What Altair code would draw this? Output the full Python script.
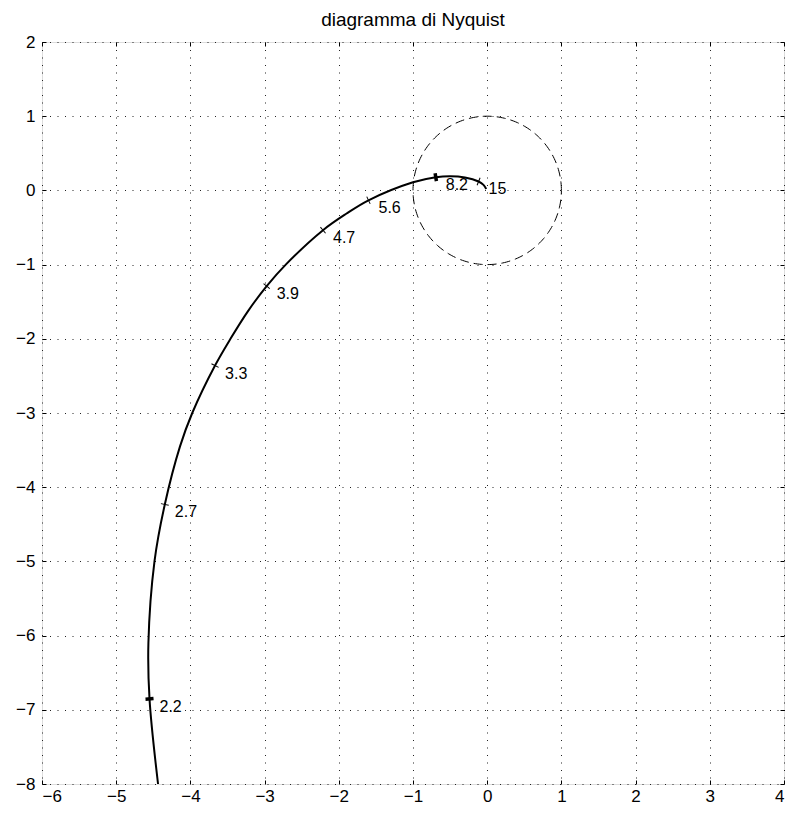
import altair as alt
import numpy as np
import pandas as pd

# Nyquist curve, ordered by increasing frequency
curve_x = [-4.436, -4.551, -4.566, -4.484, -4.345, -4.140, -3.975, -3.668,
           -3.460, -3.228, -2.972, -2.715, -2.213, -1.900, -1.600, -1.000,
           -0.693, -0.500, -0.300, -0.116, -0.050, -0.013]
curve_y = [-8.000, -6.853, -6.100, -5.000, -4.233, -3.450, -3.000, -2.360,
           -2.000, -1.633, -1.290, -1.000, -0.536, -0.315, -0.133, 0.110,
           0.178, 0.192, 0.175, 0.120, 0.075, 0.020]

# frequency markers on the curve
marker_labels = ["2.2", "2.7", "3.3", "3.9", "4.7", "5.6", "8.2", "15"]
marker_index = [1, 4, 7, 10, 12, 14, 16, 19]
marker_thick = [True, False, False, False, False, False, True, False]

x_ticks = list(range(-6, 5))
y_ticks = list(range(-8, 3))
X_DOM = [-6, 4]
Y_DOM = [-8, 2]
W, H = 742, 742

FONT = "Liberation Sans"

px_x = W / (X_DOM[1] - X_DOM[0])
px_y = H / (Y_DOM[1] - Y_DOM[0])

curve = pd.DataFrame({"i": range(len(curve_x)), "x": curve_x, "y": curve_y})

angles = []
for k in marker_index:
    a, b = max(k - 1, 0), min(k + 1, len(curve_x) - 1)
    sdx = (curve_x[b] - curve_x[a]) * px_x
    sdy = -(curve_y[b] - curve_y[a]) * px_y
    angles.append(float(np.degrees(np.arctan2(sdy, sdx)) % 360))

markers = pd.DataFrame({
    "x": [curve_x[k] for k in marker_index],
    "y": [curve_y[k] for k in marker_index],
    "label": marker_labels,
    "thick": marker_thick,
    "angle": angles,
})

# unit circle
t = np.linspace(0, 2 * np.pi, 241)
circle = pd.DataFrame({"i": range(len(t)), "x": np.cos(t), "y": np.sin(t)})

xs = alt.Scale(domain=X_DOM, nice=False, zero=False)
ys = alt.Scale(domain=Y_DOM, nice=False, zero=False)

lab_common = dict(grid=True, gridDash=[1, 6.5], gridColor="#222", gridWidth=1,
                  ticks=False, domain=False, labelFontSize=17, labelFont=FONT,
                  labelColor="black", title=None, format="d")
ax_bottom = alt.Axis(orient="bottom", values=x_ticks, labelPadding=4, **lab_common)
ax_left = alt.Axis(orient="left", values=y_ticks, labelPadding=7, **lab_common)

tick_common = dict(grid=False, labels=False, ticks=True, tickSize=4, tickColor="black",
                   tickWidth=1, offset=-4, domain=False, title=None)
ax_bottom_t = alt.Axis(orient="bottom", values=x_ticks, **tick_common)
ax_left_t = alt.Axis(orient="left", values=y_ticks, **tick_common)
ax_top_t = alt.Axis(orient="top", values=x_ticks, **tick_common)
ax_right_t = alt.Axis(orient="right", values=y_ticks, **tick_common)

line = alt.Chart(curve).mark_line(color="black", strokeWidth=2, interpolate="catmull-rom").encode(
    x=alt.X("x:Q", scale=xs, axis=ax_bottom),
    y=alt.Y("y:Q", scale=ys, axis=ax_left),
    order="i:Q",
)

circ = alt.Chart(circle).mark_line(color="black", strokeWidth=1, strokeDash=[9, 5]).encode(
    x=alt.X("x:Q", scale=xs, axis=ax_bottom_t),
    y=alt.Y("y:Q", scale=ys, axis=ax_left_t),
    order="i:Q",
)

TICK_PATH = "M0,-1L0,1"
thin = alt.Chart(markers).transform_filter("!datum.thick").mark_point(
    shape=TICK_PATH, filled=False, stroke="black", strokeWidth=1, size=64, opacity=1
).encode(
    x=alt.X("x:Q", scale=xs, axis=ax_top_t),
    y=alt.Y("y:Q", scale=ys, axis=ax_right_t),
    angle=alt.Angle("angle:Q", scale=None),
)

thick = alt.Chart(markers).transform_filter("datum.thick").mark_point(
    shape=TICK_PATH, filled=False, stroke="black", strokeWidth=3.5, size=64, opacity=1
).encode(
    x=alt.X("x:Q", scale=xs, axis=None),
    y=alt.Y("y:Q", scale=ys, axis=None),
    angle=alt.Angle("angle:Q", scale=None),
)

labels = alt.Chart(markers).mark_text(
    align="left", baseline="middle", dx=10, dy=8, fontSize=16, font=FONT, color="black"
).encode(
    x=alt.X("x:Q", scale=xs, axis=None),
    y=alt.Y("y:Q", scale=ys, axis=None),
    text="label:N",
)

chart = alt.layer(line, circ, thin, thick, labels).resolve_axis(
    x="independent", y="independent"
).properties(
    width=W,
    height=H,
    title=alt.TitleParams("diagramma di Nyquist", fontSize=19, font=FONT,
                          fontWeight="normal", color="black", offset=3, frame="group"),
    autosize=alt.AutoSizeParams(type="none"),
    padding={"left": 34, "top": 34, "right": 2, "bottom": 21},
).configure_view(
    stroke="black", strokeWidth=1
).configure(background="white")

chart.save("out.html", embed_options={"renderer": "svg", "actions": False})
